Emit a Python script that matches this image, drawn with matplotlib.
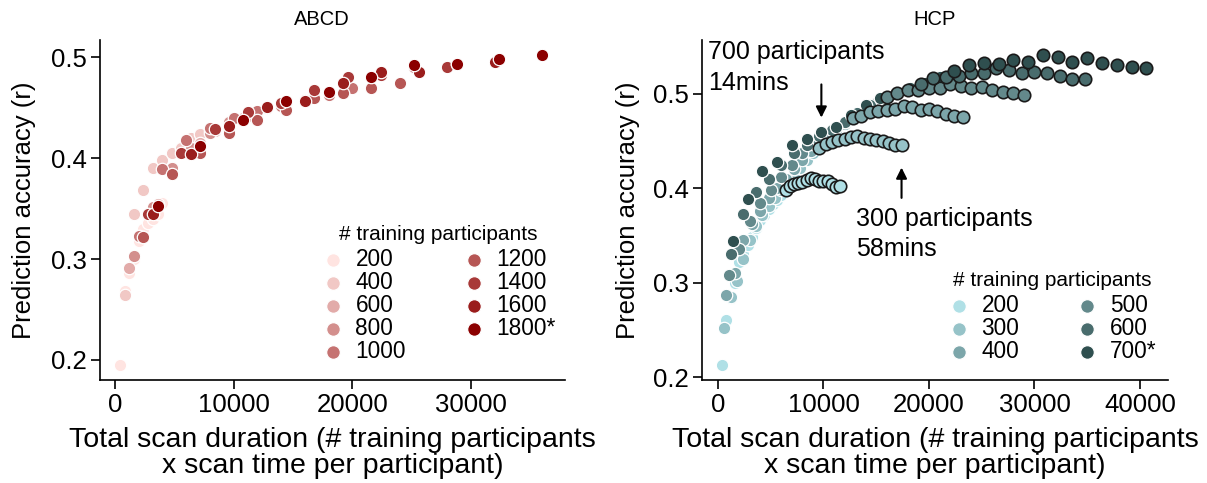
import numpy as np
import matplotlib
matplotlib.use("Agg")
import matplotlib.pyplot as plt
from matplotlib.colors import to_rgb

plt.rcParams['font.family'] = ['Liberation Sans', 'DejaVu Sans']

# ---------------- ABCD data ----------------
abcd_n = [200, 400, 600, 800, 1000, 1200, 1400, 1600, 1800]
abcd_t = [2, 4, 6, 8, 10, 12, 14, 16, 18, 20]  # minutes per participant
abcd_r200 = [0.195, 0.268, 0.286, 0.300, 0.318, 0.330, 0.336, 0.340, 0.345, 0.356]
abcd_r400 = [0.264, 0.345, 0.368, 0.390, 0.398, 0.405, 0.410, 0.420, 0.424, 0.428]
abcd_r600 = [0.291, 0.322, 0.355, 0.390, 0.405, 0.415, 0.427, 0.435, 0.440, 0.445]
abcd_r800 = [0.303, 0.352, 0.390, 0.410, 0.425, 0.436, 0.442, 0.450, 0.455, 0.458]
abcd_r1000 = [0.323, 0.389, 0.418, 0.430, 0.440, 0.447, 0.452, 0.458, 0.463, 0.470]
abcd_r1200 = [0.322, 0.384, 0.405, 0.425, 0.438, 0.448, 0.460, 0.465, 0.470, 0.474]
abcd_r1400 = [0.345, 0.405, 0.429, 0.446, 0.455, 0.468, 0.480, 0.482, 0.490, 0.490]
abcd_r1600 = [0.345, 0.404, 0.432, 0.451, 0.457, 0.474, 0.485, 0.485, 0.493, 0.495]
abcd_r1800 = [0.353, 0.412, 0.438, 0.457, 0.466, 0.480, 0.492, 0.493, 0.498, 0.502]
abcd_labels = ['200', '400', '600', '800', '1000', '1200', '1400', '1600', '1800*']

# ---------------- HCP data ----------------
hcp_n = [200, 300, 400, 500, 600, 700]
hcp_t = [2, 4, 6, 8, 10, 12, 14, 16, 18, 20, 22, 24, 26, 28, 30,
         32, 34, 36, 38, 40, 42, 44, 46, 48, 50, 52, 54, 56, 58]
hcp_r200 = [0.213, 0.261, 0.284, 0.300, 0.322, 0.330, 0.340, 0.348, 0.358, 0.366,
            0.372, 0.378, 0.383, 0.388, 0.393, 0.398, 0.403, 0.405, 0.406, 0.407,
            0.409, 0.411, 0.410, 0.408, 0.408, 0.408, 0.405, 0.401, 0.403]
hcp_r300 = [0.252, 0.285, 0.302, 0.325, 0.345, 0.360, 0.372, 0.381, 0.390, 0.398,
            0.406, 0.414, 0.422, 0.430, 0.437, 0.443, 0.447, 0.449, 0.451, 0.452,
            0.454, 0.455, 0.453, 0.452, 0.451, 0.450, 0.448, 0.446, 0.446]
hcp_r400 = [0.287, 0.310, 0.345, 0.362, 0.376, 0.390, 0.400, 0.410, 0.420, 0.430,
            0.440, 0.448, 0.456, 0.462, 0.468, 0.474, 0.477, 0.481, 0.482, 0.483,
            0.484, 0.487, 0.486, 0.483, 0.484, 0.482, 0.479, 0.477, 0.476]
hcp_r500 = [0.308, 0.336, 0.365, 0.385, 0.398, 0.412, 0.425, 0.437, 0.447, 0.456,
            0.463, 0.470, 0.478, 0.484, 0.490, 0.4965, 0.501, 0.504, 0.504, 0.506,
            0.506, 0.511, 0.5085, 0.506, 0.507, 0.504, 0.5025, 0.5007, 0.499]
hcp_r600 = [0.330, 0.373, 0.396, 0.410, 0.425, 0.437, 0.446, 0.455, 0.462, 0.470,
            0.480, 0.488, 0.494, 0.500, 0.505, 0.511, 0.517, 0.518, 0.5185, 0.522,
            0.522, 0.527, 0.525, 0.522, 0.523, 0.522, 0.5185, 0.5156, 0.5156]
hcp_r700 = [0.344, 0.389, 0.418, 0.428, 0.446, 0.452, 0.460, 0.465, 0.478, 0.488,
            0.496, 0.500, 0.506, 0.512, 0.518, 0.524, 0.531, 0.533, 0.532, 0.536,
            0.534, 0.5415, 0.539, 0.534, 0.538, 0.533, 0.531, 0.528, 0.527]
hcp_labels = ['200', '300', '400', '500', '600', '700*']


def blend(c0, c1, n):
    a, b = np.array(to_rgb(c0)), np.array(to_rgb(c1))
    return [tuple(a + (b - a) * k / (n - 1)) for k in range(n)]


abcd_cols = blend('mistyrose', 'darkred', len(abcd_n))
hcp_cols = blend('powderblue', 'darkslategray', len(hcp_n))

fig = plt.figure(figsize=(12.07, 4.83), dpi=100)
ax1 = fig.add_axes([0.0829, 0.213, 0.385, 0.704])
ax2 = fig.add_axes([0.5816, 0.213, 0.386, 0.704])

# ABCD panel
abcd_series = [abcd_r200, abcd_r400, abcd_r600, abcd_r800, abcd_r1000,
               abcd_r1200, abcd_r1400, abcd_r1600, abcd_r1800]
for n, r, c, lab in zip(abcd_n, abcd_series, abcd_cols, abcd_labels):
    x = n * np.array(abcd_t)
    ax1.scatter(x, r, s=80, color=c, edgecolor='white', linewidth=0.9, label=lab, zorder=3)

# HCP panel: points beyond 30 min get a dark outline, drawn on top
hcp_series = [hcp_r200, hcp_r300, hcp_r400, hcp_r500, hcp_r600, hcp_r700]
t = np.array(hcp_t)
long_scan = t > 30
for n, r, c, lab in zip(hcp_n, hcp_series, hcp_cols, hcp_labels):
    x = n * t
    r = np.array(r)
    ax2.scatter(x[~long_scan], r[~long_scan], s=80, color=c, edgecolor='white',
                linewidth=0.9, label=lab, zorder=3)
for n, r, c in zip(hcp_n, hcp_series, hcp_cols):
    x = n * t
    r = np.array(r)
    ax2.scatter(x[long_scan], r[long_scan], s=80, color=c, edgecolor='#1a1a1a',
                linewidth=1.2, zorder=4)

for ax, pad in ((ax1, 11), (ax2, 9.5)):
    for side in ('top', 'right'):
        ax.spines[side].set_visible(False)
    ax.spines['left'].set_linewidth(1.2)
    ax.spines['bottom'].set_linewidth(1.2)
    ax.tick_params(labelsize=18.5, width=1.2, length=6.5, pad=3)
    ax.set_yticks([0.2, 0.3, 0.4, 0.5])
    ax.set_ylabel('Prediction accuracy (r)', fontsize=18.5, labelpad=pad)
    ax.set_xlabel('Total scan duration (# training participants\nx scan time per participant)',
                  fontsize=20.5, linespacing=1.02, labelpad=7)

ax1.set_xlim(-1260, 37900)
ax1.set_ylim(0.18, 0.517)
ax1.set_xticks([0, 10000, 20000, 30000])
ax1.set_title('ABCD', fontsize=14.5, x=0.477, pad=11)

ax2.set_xlim(-1517, 42650)
ax2.set_ylim(0.197, 0.557)
ax2.set_xticks([0, 10000, 20000, 30000, 40000])
ax2.set_title('HCP', fontsize=14.5, pad=11)

leg_kw = dict(title='# training participants', ncol=2, frameon=False, fontsize=16.3,
              title_fontsize=15, loc='lower right', labelspacing=0.0,
              handlelength=1.0, handletextpad=0.5, borderaxespad=0.2, markerscale=1.1)
leg1 = ax1.legend(bbox_to_anchor=(1.01, 0.01), columnspacing=2.5, **leg_kw)
leg2 = ax2.legend(bbox_to_anchor=(1.005, 0.01), columnspacing=2.5, **leg_kw)
for leg in (leg1, leg2):
    leg._legend_box.sep = 3

# annotations
i14 = hcp_t.index(14)
x700 = hcp_n[-1] * hcp_t[i14]
y700 = hcp_r700[i14]
ax2.annotate('', xy=(x700, y700 + 0.012), xytext=(x700, y700 + 0.053),
             arrowprops=dict(arrowstyle='-|>', color='black', lw=1.5, mutation_scale=16))
ax2.text(0.013, 1.0, '700 participants\n14mins', transform=ax2.transAxes,
         fontsize=18, va='top', ha='left', linespacing=1.35)

i58 = hcp_t.index(58)
x300 = hcp_n[1] * hcp_t[i58]
y300 = hcp_r300[i58]
ax2.annotate('', xy=(x300, y300 - 0.021), xytext=(x300, y300 - 0.059),
             arrowprops=dict(arrowstyle='-|>', color='black', lw=1.5, mutation_scale=16))
ax2.text(0.33, 0.51, '300 participants\n58mins', transform=ax2.transAxes,
         fontsize=18, va='top', ha='left', linespacing=1.35)

fig.savefig('out.png', dpi=100)
